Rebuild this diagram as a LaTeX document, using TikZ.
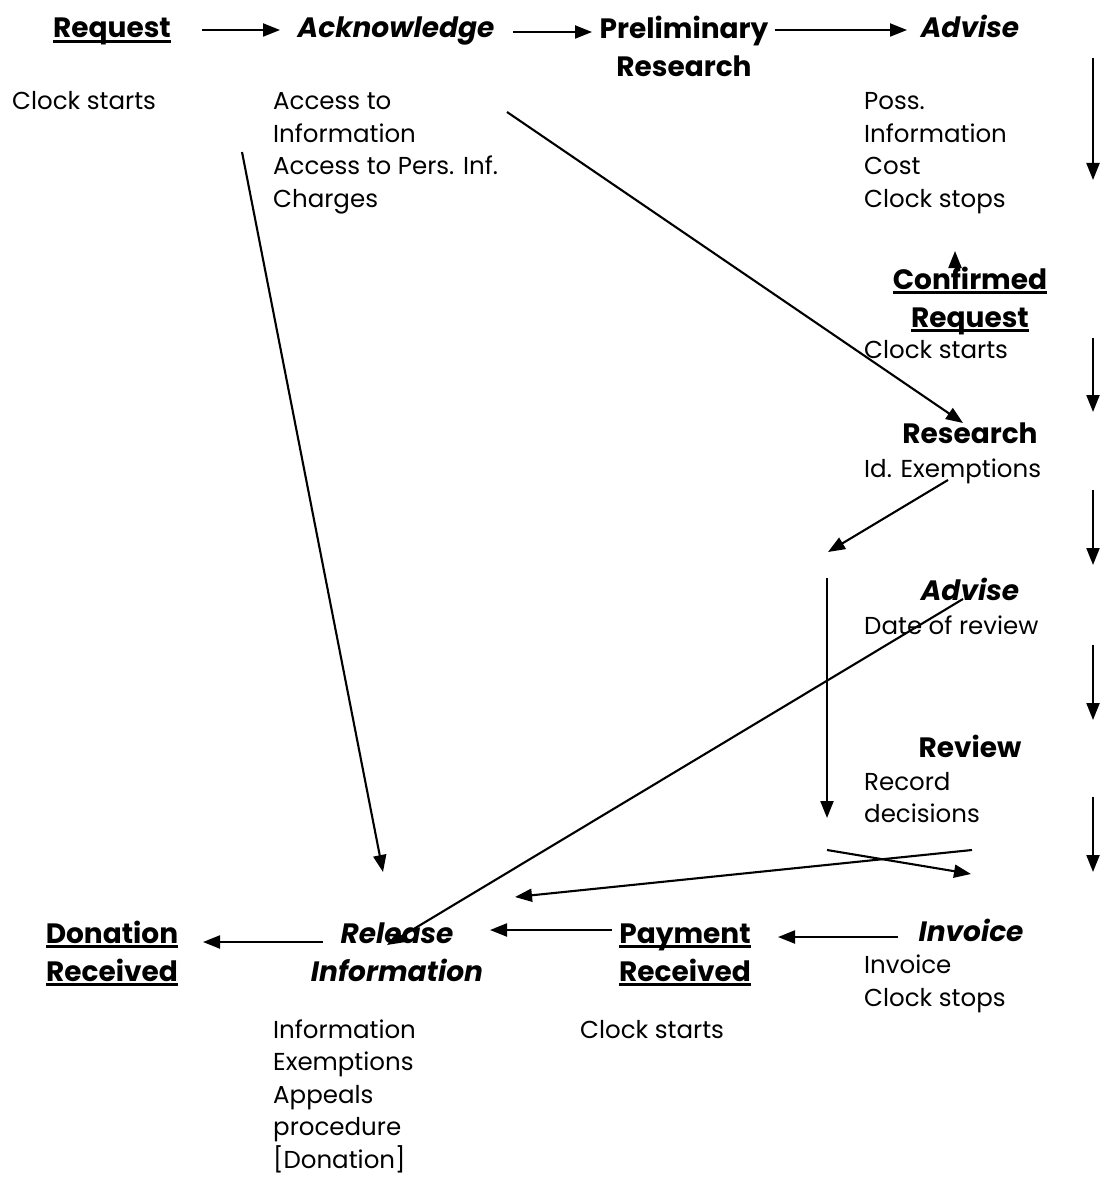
\documentclass[tikz,border=0pt]{standalone}
\usepackage{fontspec}
\setmainfont{Poppins}
\usetikzlibrary{arrows.meta}
\newcommand\myul[1]{\leavevmode\setbox0=\hbox{#1}\rlap{\rule[-5pt]{\wd0}{2.8pt}}\box0}
\tikzset{
 note/.style={anchor=base west, align=left, font=\fontsize{24.5}{32.5}\selectfont, inner sep=0pt},
 head/.style={anchor=base, align=center, font=\fontsize{28}{38}\selectfont\bfseries, inner sep=0pt},
 ihead/.style={head, font=\fontsize{28}{38}\selectfont\bfseries\itshape},
 arr/.style={line width=2.1pt, -{Triangle[length=17pt,width=13pt]}},
}
\begin{document}
\begin{tikzpicture}[x=1pt,y=-1pt]
\fill[white] (0,0) rectangle (1104,1177);
\useasboundingbox (0,0) rectangle (1104,1177);
% headings (anchor = baseline of last line)
\node[head] (req) at (112,38) {\myul{Request}};
\node[ihead] (ack) at (396,38) {Acknowledge};
\node[head] (pre) at (684,77) {Preliminary\\Research};
\node[ihead] (adv1) at (970,38) {Advise};
\node[head] (conf) at (970,327) {\myul{Confirmed}\\\myul{Request}};
\node[head] (res) at (970,443) {Research};
\node[ihead] (adv2) at (970,600) {Advise};
\node[head] (rev) at (970,757) {Review};
\node[head] (don) at (112,981) {\myul{Donation}\\\myul{Received}};
\node[ihead] (rel) at (397,981) {Release\\Information};
\node[head] (pay) at (685,981) {\myul{Payment}\\\myul{Received}};
\node[ihead] (inv) at (971,941) {Invoice};
% notes (anchor = baseline of last line)
\node[note] (n1) at (12,110) {Clock starts};
\node[note] (n2) at (273,207.5) {Access to\\Information\\Access to Pers. Inf.\\Charges};
\node[note] (n3) at (864,207.5) {Poss.\\Information\\Cost\\Clock stops};
\node[note] (n4) at (864,358) {Clock starts};
\node[note] (n5) at (864,477) {Id. Exemptions};
\node[note] (n6) at (864,634) {Date of review};
\node[note] (n7) at (864,822.5) {Record\\decisions};
\node[note] (n8) at (864,1006) {Invoice\\Clock stops};
\node[note] (n9) at (580,1038) {Clock starts};
\node[note] (n10) at (273,1168) {Information\\Exemptions\\Appeals\\procedure\\{}[Donation]};
% connector end points
\coordinate (a1s) at (202,30); \coordinate (a1e) at (280,30);
\coordinate (a2s) at (513,32); \coordinate (a2e) at (592,32);
\coordinate (a3s) at (775,30); \coordinate (a3e) at (907,30);
\coordinate (v1s) at (1093,58); \coordinate (v1e) at (1093,180);
\coordinate (ups) at (955,268); \coordinate (upe) at (955,251);
\coordinate (d1s) at (507,112); \coordinate (d1e) at (963,423);
\coordinate (v2s) at (1093,338); \coordinate (v2e) at (1093,412);
\coordinate (d2s) at (948,480); \coordinate (d2e) at (828,552);
\coordinate (v3s) at (1093,490); \coordinate (v3e) at (1093,565);
\coordinate (v4s) at (827,578); \coordinate (v4e) at (827,818);
\coordinate (v5s) at (1093,645); \coordinate (v5e) at (1093,720);
\coordinate (v6s) at (1093,797); \coordinate (v6e) at (1093,872);
\coordinate (x1s) at (827,850); \coordinate (x1e) at (971,874);
\coordinate (x2s) at (972,850); \coordinate (x2e) at (515,897);
\coordinate (d3s) at (963,599); \coordinate (d3e) at (387,945);
\coordinate (d4s) at (242,152); \coordinate (d4e) at (383,872);
\coordinate (h1s) at (323,942); \coordinate (h1e) at (203,942);
\coordinate (h2s) at (612,930); \coordinate (h2e) at (490,930);
\coordinate (h3s) at (898,937); \coordinate (h3e) at (778,937);
\foreach \a in {a1,a2,a3,v1,up,d1,v2,d2,v3,v4,v5,v6,x1,x2,d3,d4,h1,h2,h3}
  \draw[arr] (\a s) -- (\a e);
\end{tikzpicture}
\end{document}
